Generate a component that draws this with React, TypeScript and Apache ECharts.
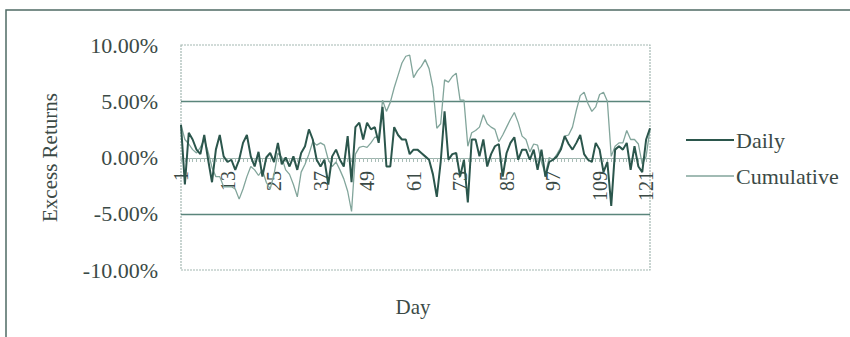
import React, { useEffect, useRef } from "react";
import * as echarts from "echarts";

const days: string[] = Array.from({ length: 122 }, (_, i) => String(i + 1));

const daily: number[] = [
  2.9, -2.4, 2.2, 1.6, 0.7, 0.3, 2.0, -0.2, -2.2, 0.7,
  2.0, 0.1, -0.4, -0.2, -1.1, -0.2, 1.3, 2.0, 0.1, -0.8,
  0.5, -1.7, 0.0, 0.4, -0.4, 1.3, -0.6, 0.0, -0.8, 0.1,
  -1.1, 0.4, 1.0, 2.5, 1.6, -0.2, -0.8, -0.2, -2.4, 0.1,
  0.7, -0.2, -0.8, 1.9, -2.2, 2.7, 3.1, 1.6, 3.1, 2.5,
  2.7, 1.3, 4.5, -0.8, -0.8, 2.7, 2.0, 1.6, 1.6, 0.3,
  0.7, 0.7, 0.4, 0.1, -0.2, -1.5, -3.5, -0.4, 4.1, -0.2,
  0.3, 0.4, -1.7, -0.2, -4.0, 1.6, 1.6, 0.1, 1.6, -0.8,
  0.3, 1.0, 1.2, -1.7, 0.4, 1.3, 1.8, -0.2, 0.7, 0.7,
  -0.2, 0.7, -1.1, 0.7, -1.7, -0.4, -0.2, 0.1, 0.7, 1.9,
  1.2, 0.7, 1.3, 2.0, 0.3, -0.2, -0.4, 1.3, 0.7, -1.3,
  -0.4, -4.3, 0.7, 1.0, 0.7, 1.3, -1.1, 1.0, -0.8, -1.3,
  1.6, 2.6,
];

const cumulative: number[] = [
  2.9, 1.6, 1.2, 0.7, 0.4, 0.9, 1.6, 0.5, -0.9, -1.7,
  -1.7, -2.6, -2.6, -2.6, -2.8, -3.7, -2.8, -1.7, -0.8, -1.1,
  -1.6, -1.1, -2.2, -2.8, -1.5, 0.4, 0.0, -1.1, -1.5, -2.4,
  -3.5, -1.3, -0.6, 0.3, 1.4, 1.1, 1.3, 1.1, -0.2, -0.8,
  -0.4, -1.1, -1.9, -3.0, -4.8, 0.3, 0.9, 1.0, 0.9, 1.3,
  1.8, 1.8, 5.1, 4.1, 4.9, 6.2, 7.3, 8.4, 9.0, 9.1,
  7.1, 7.7, 8.1, 8.7, 7.9, 6.2, 2.6, 3.0, 6.9, 6.7,
  7.2, 7.5, 5.1, 5.1, 1.0, 2.2, 2.4, 2.7, 3.8, 3.0,
  2.7, 2.5, 1.4, 2.0, 2.7, 3.4, 4.0, 3.1, 1.9, 1.6,
  0.5, 1.2, 1.1, -0.4, -1.5, 0.0, -0.2, 0.3, 0.9, 1.9,
  2.0, 2.7, 4.2, 5.5, 5.8, 4.8, 4.1, 4.5, 5.6, 5.8,
  5.0, 0.1, 1.0, 1.3, 1.3, 2.4, 1.6, 1.6, 1.2, -0.6,
  0.1, 2.5,
];

const yTicks = { min: -0.1, max: 0.1, interval: 0.05 };

export default function App() {
  const ref = useRef<HTMLDivElement>(null);
  useEffect(() => {
    if (!ref.current) return;
    const chart = echarts.init(ref.current, undefined, { renderer: "svg" });
    const font = "'Liberation Serif', 'Times New Roman', serif";
    const textColor = "#3b4a46";
    const dailyColor = "#2b564c";
    const cumColor = "#82a59b";
    chart.setOption({
      animation: false,
      backgroundColor: "#ffffff",
      textStyle: { fontFamily: font },
      grid: {
        left: 181,
        right: 200,
        top: 45,
        bottom: 67,
        containLabel: false,
        outerBoundsMode: "none",
      },
      legend: {
        orient: "vertical",
        left: 681,
        top: 124,
        itemWidth: 48,
        itemHeight: 14,
        itemGap: 14,
        textStyle: { fontFamily: font, fontSize: 22, color: textColor, padding: [0, 0, 0, -3] },
        data: [
          { name: "Daily", icon: "path://M0,0H48V2H0Z", itemStyle: { color: dailyColor } },
          { name: "Cumulative", icon: "path://M0,0H48V1.3H0Z", itemStyle: { color: cumColor } },
        ],
      },
      xAxis: {
        type: "category",
        data: days,
        boundaryGap: false,
        position: "bottom",
        offset: -112,
        axisLine: { onZero: false, lineStyle: { color: "#9db4ad", width: 1 } },
        axisTick: { show: true, interval: 0, length: 4, lineStyle: { color: "#a9bdb7" } },
        axisLabel: {
          interval: 11,
          rotate: 90,
          margin: 13,
          fontFamily: font,
          fontSize: 20,
          color: textColor,
        },
        splitLine: { show: false },
      },
      yAxis: {
        type: "value",
        min: yTicks.min,
        max: yTicks.max,
        interval: yTicks.interval,
        name: "Excess Returns",
        nameLocation: "middle",
        nameGap: 121,
        nameTextStyle: { fontFamily: font, fontSize: 21, color: textColor },
        axisLine: { show: false },
        axisTick: { show: false },
        axisLabel: {
          margin: 23,
          fontFamily: font,
          fontSize: 22,
          color: textColor,
          formatter: (v: number) => (v * 100).toFixed(2) + "%",
        },
        splitLine: {
          show: true,
          lineStyle: {
            color: ["transparent", "#5a857b", "transparent", "#5a857b", "transparent"],
            width: 1.3,
          },
        },
      },
      graphic: [
        {
          type: "rect",
          shape: { x: 181, y: 45, width: 469, height: 225 },
          style: { fill: "none", stroke: "#a4b8b2", lineWidth: 1.2, lineDash: [2, 1] },
          silent: true,
          z: 0,
        },
        {
          type: "rect",
          shape: { x: 6, y: 10, width: 900, height: 400 },
          style: { fill: "none", stroke: "#4f6b64", lineWidth: 1.5 },
          silent: true,
          z: 0,
        },
        {
          type: "text",
          x: 413,
          y: 307,
          style: {
            text: "Day",
            font: "21px 'Liberation Serif', serif",
            fill: textColor,
            align: "center",
            verticalAlign: "middle",
          },
          silent: true,
        },
      ],
      series: [
        {
          name: "Cumulative",
          type: "line",
          data: cumulative.map((v) => v / 100),
          symbol: "none",
          lineStyle: { color: cumColor, width: 1.3 },
          itemStyle: { color: cumColor },
          z: 2,
        },
        {
          name: "Daily",
          type: "line",
          data: daily.map((v) => v / 100),
          symbol: "none",
          lineStyle: { color: dailyColor, width: 2 },
          itemStyle: { color: dailyColor },
          z: 3,
        },
      ],
    });
    return () => chart.dispose();
  }, []);
  return (
    <div
      ref={ref}
      style={{ position: "fixed", left: 0, top: 0, width: 850, height: 337 }}
    />
  );
}
